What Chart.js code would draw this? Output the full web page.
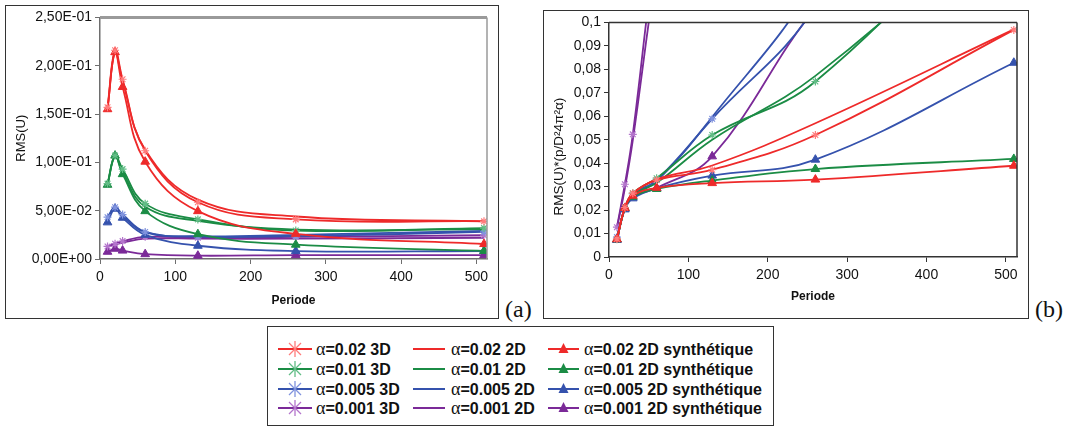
<!DOCTYPE html>
<html>
<head>
<meta charset="utf-8">
<script src="https://cdn.jsdelivr.net/npm/chart.js@4.4.1/dist/chart.umd.min.js"></script>
<style>
  body { margin: 0; width: 1074px; height: 429px; position: relative; overflow: hidden; background: #fff; font-family: "Liberation Sans", Arial, sans-serif; }
  .frame { position: absolute; border: 1px solid #333; box-sizing: border-box; background: #fff; }
  #frameA { left: 5px; top: 5px; width: 494px; height: 314px; }
  #frameB { left: 543px; top: 10px; width: 486px; height: 309px; }
  #chartA { position: absolute; left: 6px; top: 6px; }
  #chartB { position: absolute; left: 544px; top: 11px; }
  .tag { position: absolute; font-family: "Liberation Serif", "Times New Roman", serif; font-size: 24px; color: #111; }
  #legend { position: absolute; left: 267px; top: 326px; width: 507px; height: 100px; border: 1px solid #333; box-sizing: border-box; }
  .item { position: absolute; height: 18px; display: flex; align-items: center; white-space: nowrap; }
  .item span { font-weight: bold; font-size: 16px; color: #111; }
  .item i { font-style: normal; font-family: "Liberation Serif", serif; font-size: 18px; font-weight: normal; }
</style>
</head>
<body>
<div class="frame" id="frameA"></div>
<div class="frame" id="frameB"></div>
<canvas id="chartA" width="492" height="312"></canvas>
<canvas id="chartB" width="484" height="307"></canvas>
<div class="tag" style="left:505px; top:296px;">(a)</div>
<div class="tag" style="left:1035px; top:296px;">(b)</div>
<div id="legend"></div>

<script>
// abscisses communes
const periodes = [10, 20, 30, 60, 130, 260, 510];
const alphas = ["0.02", "0.01", "0.005", "0.001"];
const couleurs = ["#ee2a2a", "#1b8c45", "#3552ad", "#7b2a98"];
const couleursEtoile = ["#ff7c7c", "#62bd86", "#8093de", "#b475cc"];
const xTicks = [0, 100, 200, 300, 400, 500];
const xLabels = ["0", "100", "200", "300", "400", "500"];

// panneau (a) : RMS(U)
const rmsA_002_3D  = [0.157, 0.216, 0.186, 0.112, 0.0587, 0.041, 0.039];
const rmsA_002_2D  = [0.155, 0.214, 0.184, 0.113, 0.0615, 0.044, 0.039];
const rmsA_002_syn = [0.155, 0.214, 0.178, 0.1007, 0.0495, 0.026, 0.0155];
const rmsA_001_3D  = [0.078, 0.107, 0.093, 0.0573, 0.041, 0.0295, 0.032];
const rmsA_001_2D  = [0.077, 0.106, 0.090, 0.054, 0.0395, 0.0305, 0.031];
const rmsA_001_syn = [0.0768, 0.107, 0.0878, 0.0495, 0.0257, 0.0148, 0.0084];
const rmsA_0005_3D  = [0.0433, 0.0536, 0.046, 0.028, 0.0232, 0.0236, 0.028];
const rmsA_0005_2D  = [0.042, 0.053, 0.045, 0.0275, 0.0235, 0.025, 0.029];
const rmsA_0005_syn = [0.0379, 0.052, 0.0427, 0.025, 0.0137, 0.0082, 0.0083];
const rmsA_0001_3D  = [0.013, 0.0159, 0.0185, 0.0229, 0.022, 0.0229, 0.0246];
const rmsA_0001_2D  = [0.0125, 0.015, 0.017, 0.021, 0.021, 0.021, 0.022];
const rmsA_0001_syn = [0.0075, 0.0106, 0.0087, 0.005, 0.0034, 0.004, 0.004];
const yTicksA = [0, 0.05, 0.1, 0.15, 0.2, 0.25];
const yLabelsA = ["0,00E+00", "5,00E-02", "1,00E-01", "1,50E-01", "2,00E-01", "2,50E-01"];

// panneau (b) : RMS(U)*(p/D²4π²α)
const rmsB_002_3D  = [0.0077, 0.0211, 0.0272, 0.0328, 0.0372, 0.052, 0.0968];
const rmsB_002_2D  = [0.0076, 0.0209, 0.0269, 0.0331, 0.039, 0.057, 0.097];
const rmsB_002_syn = [0.0076, 0.0209, 0.0261, 0.0295, 0.0315, 0.033, 0.0389];
const rmsB_001_3D  = [0.0076, 0.0209, 0.0272, 0.0336, 0.052, 0.0748, 0.159];
const rmsB_001_2D  = [0.0075, 0.0207, 0.0264, 0.0316, 0.050, 0.0772, 0.150];
const rmsB_001_syn = [0.0075, 0.0209, 0.0257, 0.029, 0.0326, 0.0375, 0.0418];
const rmsB_0005_3D  = [0.0085, 0.0209, 0.0269, 0.0328, 0.0589, 0.107, 0.265];
const rmsB_0005_2D  = [0.0082, 0.0207, 0.0264, 0.0322, 0.0597, 0.118, 0.28];
const rmsB_0005_syn = [0.0074, 0.0203, 0.025, 0.0293, 0.0347, 0.0415, 0.0828];
const rmsB_0001_3D  = [0.0127, 0.031, 0.0523, 0.134, 0.279, 0.581, 1.22];
const rmsB_0001_2D  = [0.0122, 0.0293, 0.0498, 0.123, 0.266, 0.533, 1.10];
const rmsB_0001_syn = [0.0073, 0.0207, 0.0256, 0.0294, 0.0429, 0.106, 0.2];
const yTicksB = [0, 0.01, 0.02, 0.03, 0.04, 0.05, 0.06, 0.07, 0.08, 0.09, 0.1];
const yLabelsB = ["0", "0,01", "0,02", "0,03", "0,04", "0,05", "0,06", "0,07", "0,08", "0,09", "0,1"];

const seriesA = [
  [rmsA_002_3D, rmsA_002_2D, rmsA_002_syn],
  [rmsA_001_3D, rmsA_001_2D, rmsA_001_syn],
  [rmsA_0005_3D, rmsA_0005_2D, rmsA_0005_syn],
  [rmsA_0001_3D, rmsA_0001_2D, rmsA_0001_syn]
];
const seriesB = [
  [rmsB_002_3D, rmsB_002_2D, rmsB_002_syn],
  [rmsB_001_3D, rmsB_001_2D, rmsB_001_syn],
  [rmsB_0005_3D, rmsB_0005_2D, rmsB_0005_syn],
  [rmsB_0001_3D, rmsB_0001_2D, rmsB_0001_syn]
];

const pts = vals => vals.map((v, i) => ({ x: periodes[i], y: v }));

function buildDatasets(series) {
  const ds = [];
  series.forEach((s, i) => {
    ds.push({ label: "α=" + alphas[i] + " 3D", data: pts(s[0]), borderColor: couleurs[i],
      pointStyle: "star", pointRadius: 4, pointBorderColor: couleursEtoile[i], pointBorderWidth: 1.2 });
    ds.push({ label: "α=" + alphas[i] + " 2D", data: pts(s[1]), borderColor: couleurs[i], pointRadius: 0 });
    ds.push({ label: "α=" + alphas[i] + " 2D synthétique", data: pts(s[2]), borderColor: couleurs[i],
      pointStyle: "triangle", pointRadius: 5, backgroundColor: couleurs[i], pointBackgroundColor: couleurs[i],
      pointBorderColor: couleurs[i], pointBorderWidth: 1 });
  });
  return ds;
}

// cadre du tracé (haut + droite)
const plotFrame = {
  id: "plotFrame",
  afterDraw(chart, args, opts) {
    const { ctx, chartArea: a } = chart;
    ctx.save();
    ctx.strokeStyle = opts.color;
    ctx.lineWidth = opts.topWidth;
    ctx.beginPath();
    ctx.moveTo(a.left, a.top); ctx.lineTo(a.right, a.top);
    ctx.stroke();
    ctx.lineWidth = opts.rightWidth;
    ctx.beginPath();
    ctx.moveTo(a.right, a.top); ctx.lineTo(a.right, a.bottom);
    ctx.stroke();
    ctx.restore();
  }
};

function makeChart(id, series, o) {
  return new Chart(document.getElementById(id), {
    type: "line",
    data: { datasets: buildDatasets(series) },
    plugins: [plotFrame],
    options: {
      responsive: false,
      animation: false,
      events: [],
      layout: { padding: { top: o.padTop, right: o.padRight, left: 0, bottom: 0 } },
      elements: { line: { borderWidth: 1.8, tension: 0.4, capBezierPoints: false, fill: false } },
      plugins: {
        legend: { display: false },
        tooltip: { enabled: false },
        plotFrame: { color: o.frameColor, topWidth: o.topWidth, rightWidth: o.rightWidth }
      },
      scales: {
        x: {
          type: "linear", min: 0, max: 514,
          afterBuildTicks: s => { s.ticks = xTicks.map(v => ({ value: v })); },
          afterFit: s => { s.height = o.xHeight; },
          ticks: { callback: (v, i) => xLabels[i], color: "#111", padding: 5,
            font: { family: "Liberation Sans", size: 14 }, maxRotation: 0 },
          grid: { drawOnChartArea: false, tickLength: 5, color: o.axisColor },
          border: { color: o.axisColor, width: 1.5 },
          title: { display: true, text: "Periode", color: "#111",
            font: { family: "Liberation Sans", size: 12, weight: "bold" }, padding: { bottom: o.xTitlePad } }
        },
        y: {
          type: "linear", min: 0, max: o.yMax,
          afterBuildTicks: s => { s.ticks = o.yTicks.map(v => ({ value: v })); },
          afterFit: s => { s.width = o.yWidth; },
          ticks: { callback: (v, i) => o.yLabels[i], color: "#111", padding: 3,
            font: { family: "Liberation Sans", size: 14 } },
          grid: { drawOnChartArea: false, tickLength: 5, color: o.axisColor },
          border: { color: o.axisColor, width: 1.5 },
          title: { display: true, text: o.yTitle, color: "#111",
            font: { family: "Liberation Sans", size: o.yTitleSize }, padding: { top: o.yTitlePad } }
        }
      }
    }
  });
}

makeChart("chartA", seriesA, {
  yMax: 0.25, yTicks: yTicksA, yLabels: yLabelsA, yTitle: "RMS(U)", yTitleSize: 13,
  padTop: 9, padRight: 11, xHeight: 59, yWidth: 94, xTitlePad: 10, yTitlePad: 8,
  axisColor: "#6e6e6e", frameColor: "#9a9a9a", topWidth: 3, rightWidth: 1.5
});

makeChart("chartB", seriesB, {
  yMax: 0.1, yTicks: yTicksB, yLabels: yLabelsB, yTitleSize: 13.5,
  yTitle: "RMS(U)*(p/D²4π²α)" + "\u00a0".repeat(9),
  padTop: 9, padRight: 11, xHeight: 61, yWidth: 65, xTitlePad: 14, yTitlePad: 7,
  axisColor: "#333", frameColor: "#333", topWidth: 1.5, rightWidth: 1.5
});

// légende commune
const legendCols = [
  { kind: "3D", markLeft: 10, markW: 34, textLeft: 48 },
  { kind: "2D", markLeft: 145, markW: 32, textLeft: 183 },
  { kind: "2D synthétique", markLeft: 280, markW: 31, textLeft: 316 }
];
const legendRowsY = [13, 33, 53, 72];

function markerSvg(kind, w, col, colStar) {
  const m = w / 2;
  let s = `<svg width="${w}" height="18" style="position:absolute;left:0;top:0">`;
  s += `<line x1="0" y1="9" x2="${w}" y2="9" stroke="${col}" stroke-width="2"/>`;
  if (kind === "3D") {
    s += `<g stroke="${colStar}" stroke-width="1.3">
      <line x1="${m}" y1="1" x2="${m}" y2="17"/>
      <line x1="${m - 6}" y1="3" x2="${m + 6}" y2="15"/>
      <line x1="${m + 6}" y1="3" x2="${m - 6}" y2="15"/></g>`;
  } else if (kind === "2D synthétique") {
    s += `<polygon points="${m},3 ${m + 5},13 ${m - 5},13" fill="${col}"/>`;
  }
  return s + "</svg>";
}

const legendEl = document.getElementById("legend");
legendCols.forEach(c => {
  alphas.forEach((a, r) => {
    const mk = document.createElement("div");
    mk.className = "item";
    mk.style.left = c.markLeft + "px";
    mk.style.top = legendRowsY[r] + "px";
    mk.style.width = c.markW + "px";
    mk.innerHTML = markerSvg(c.kind, c.markW, couleurs[r], couleursEtoile[r]);
    legendEl.appendChild(mk);
    const tx = document.createElement("div");
    tx.className = "item";
    tx.style.left = c.textLeft + "px";
    tx.style.top = legendRowsY[r] + "px";
    tx.innerHTML = `<span><i>α</i>=${a} ${c.kind}</span>`;
    legendEl.appendChild(tx);
  });
});
</script>
</body>
</html>
